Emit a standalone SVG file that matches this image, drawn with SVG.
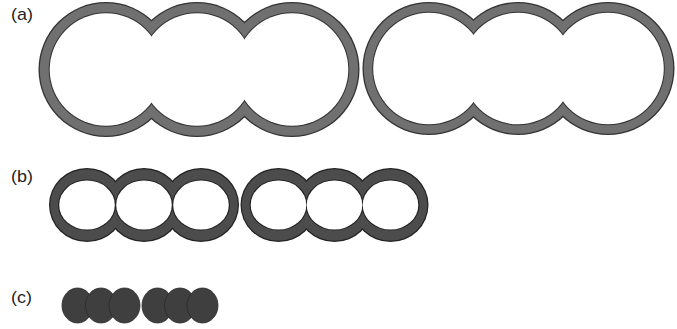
<svg xmlns="http://www.w3.org/2000/svg" width="677" height="329" viewBox="0 0 677 329">
  <style>
    .lbl { font-family: "Liberation Sans", Arial, sans-serif; font-size: 16px; fill: #222; }
    .edgeA { fill: #333333; }
    .bandA { fill: #707070; }
    .edgeB { fill: #222222; }
    .bandB { fill: #4c4c4c; }
    .hole { fill: #ffffff; }
    .dot { fill: #3f3f3f; stroke: #2a2a2a; stroke-width: 0.8; }
  </style>
  <rect width="677" height="329" fill="#ffffff"/>

  <!-- Row (a) -->
  <g id="label-a"><text class="lbl" x="11" y="20" transform="translate(11 0) scale(1.12 1) translate(-11 0)">(a)</text></g>
  <g id="a-group1">
    <circle class="edgeA" cx="106" cy="69.5" r="67.5"/>
    <circle class="edgeA" cx="197" cy="69.5" r="67.5"/>
    <circle class="edgeA" cx="292" cy="69.5" r="67.5"/>
    <circle class="bandA" cx="106" cy="69.5" r="66.2"/>
    <circle class="bandA" cx="197" cy="69.5" r="66.2"/>
    <circle class="bandA" cx="292" cy="69.5" r="66.2"/>
    <circle class="edgeA" cx="106" cy="69.5" r="57.3"/>
    <circle class="edgeA" cx="197" cy="69.5" r="57.3"/>
    <circle class="edgeA" cx="292" cy="69.5" r="57.3"/>
    <circle class="hole" cx="106" cy="69.5" r="56.3"/>
    <circle class="hole" cx="197" cy="69.5" r="56.3"/>
    <circle class="hole" cx="292" cy="69.5" r="56.3"/>
  </g>
  <g id="a-group2">
    <circle class="edgeA" cx="429" cy="68.5" r="66.5"/>
    <circle class="edgeA" cx="518" cy="68.5" r="66.5"/>
    <circle class="edgeA" cx="608" cy="68.5" r="66.5"/>
    <circle class="bandA" cx="429" cy="68.5" r="65.2"/>
    <circle class="bandA" cx="518" cy="68.5" r="65.2"/>
    <circle class="bandA" cx="608" cy="68.5" r="65.2"/>
    <circle class="edgeA" cx="429" cy="68.5" r="56.8"/>
    <circle class="edgeA" cx="518" cy="68.5" r="56.8"/>
    <circle class="edgeA" cx="608" cy="68.5" r="56.8"/>
    <circle class="hole" cx="429" cy="68.5" r="55.8"/>
    <circle class="hole" cx="518" cy="68.5" r="55.8"/>
    <circle class="hole" cx="608" cy="68.5" r="55.8"/>
  </g>

  <!-- Row (b) -->
  <g id="label-b"><text class="lbl" x="11" y="182" transform="translate(11 0) scale(1.12 1) translate(-11 0)">(b)</text></g>
  <g id="b-rings">
    <ellipse class="edgeB" cx="87" cy="205" rx="38" ry="37"/>
    <ellipse class="edgeB" cx="144" cy="205" rx="38" ry="37"/>
    <ellipse class="edgeB" cx="201" cy="205" rx="38" ry="37"/>
    <ellipse class="edgeB" cx="278.5" cy="205" rx="38" ry="37"/>
    <ellipse class="edgeB" cx="334.5" cy="205" rx="38" ry="37"/>
    <ellipse class="edgeB" cx="390.5" cy="205" rx="38" ry="37"/>
    <ellipse class="bandB" cx="87" cy="205" rx="36.8" ry="35.8"/>
    <ellipse class="bandB" cx="144" cy="205" rx="36.8" ry="35.8"/>
    <ellipse class="bandB" cx="201" cy="205" rx="36.8" ry="35.8"/>
    <ellipse class="bandB" cx="278.5" cy="205" rx="36.8" ry="35.8"/>
    <ellipse class="bandB" cx="334.5" cy="205" rx="36.8" ry="35.8"/>
    <ellipse class="bandB" cx="390.5" cy="205" rx="36.8" ry="35.8"/>
    <ellipse class="edgeB" cx="87" cy="205" rx="29" ry="25.5"/>
    <ellipse class="edgeB" cx="144" cy="205" rx="29" ry="25.5"/>
    <ellipse class="edgeB" cx="201" cy="205" rx="29" ry="25.5"/>
    <ellipse class="edgeB" cx="278.5" cy="205" rx="29" ry="25.5"/>
    <ellipse class="edgeB" cx="334.5" cy="205" rx="29" ry="25.5"/>
    <ellipse class="edgeB" cx="390.5" cy="205" rx="29" ry="25.5"/>
    <ellipse class="hole" cx="87" cy="205" rx="27.8" ry="24.5"/>
    <ellipse class="hole" cx="144" cy="205" rx="27.8" ry="24.5"/>
    <ellipse class="hole" cx="201" cy="205" rx="27.8" ry="24.5"/>
    <ellipse class="hole" cx="278.5" cy="205" rx="27.8" ry="24.5"/>
    <ellipse class="hole" cx="334.5" cy="205" rx="27.8" ry="24.5"/>
    <ellipse class="hole" cx="390.5" cy="205" rx="27.8" ry="24.5"/>
  </g>

  <!-- Row (c) -->
  <g id="label-c"><text class="lbl" x="11" y="303" transform="translate(11 0) scale(1.12 1) translate(-11 0)">(c)</text></g>
  <g id="c-dots">
    <ellipse class="dot" cx="77.5" cy="305.5" rx="15.5" ry="17.5"/>
    <ellipse class="dot" cx="101" cy="305.5" rx="15.5" ry="17.5"/>
    <ellipse class="dot" cx="124.5" cy="305.5" rx="15.5" ry="17.5"/>
    <ellipse class="dot" cx="157.5" cy="305.5" rx="15.5" ry="17.5"/>
    <ellipse class="dot" cx="180" cy="305.5" rx="15.5" ry="17.5"/>
    <ellipse class="dot" cx="202.5" cy="305.5" rx="15.5" ry="17.5"/>
  </g>
</svg>
